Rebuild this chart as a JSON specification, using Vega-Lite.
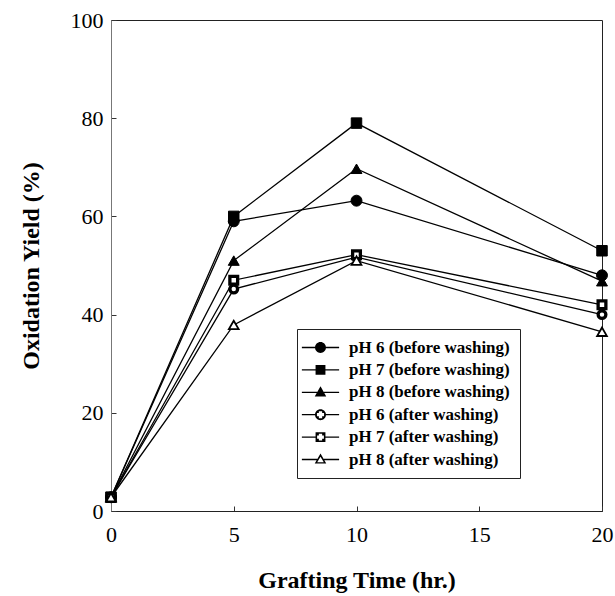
{
  "$schema": "https://vega.github.io/schema/vega-lite/v6.json",
  "width": 491,
  "height": 491,
  "autosize": {"type": "none"},
  "padding": {"left": 111, "top": 20, "right": 13, "bottom": 85},
  "background": "white",
  "config": {
    "view": {"stroke": "#222", "strokeWidth": 1},
    "font": "Liberation Serif",
    "legend": {
      "orient": "none",
      "legendX": 186,
      "legendY": 309,
      "strokeColor": "#222",
      "fillColor": "white",
      "padding": 10,
      "symbolSize": 120,
      "symbolOffset": 5,
      "labelOffset": 20,
      "symbolStrokeColor": "black",
      "symbolStrokeWidth": 1.3,
      "symbolFillColor": "black",
      "labelFont": "Liberation Serif",
      "labelFontSize": 17,
      "labelFontWeight": "bold",
      "labelColor": "black",
      "labelLimit": 300,
      "rowPadding": 4.4
    }
  },
  "data": {
    "values": [
      {"time": 0, "yield": 2.8, "series": "pH 6 (before washing)"},
      {"time": 5, "yield": 59.0, "series": "pH 6 (before washing)"},
      {"time": 10, "yield": 63.2, "series": "pH 6 (before washing)"},
      {"time": 20, "yield": 48.0, "series": "pH 6 (before washing)"},
      {"time": 0, "yield": 2.8, "series": "pH 7 (before washing)"},
      {"time": 5, "yield": 60.0, "series": "pH 7 (before washing)"},
      {"time": 10, "yield": 79.0, "series": "pH 7 (before washing)"},
      {"time": 20, "yield": 53.0, "series": "pH 7 (before washing)"},
      {"time": 0, "yield": 2.8, "series": "pH 8 (before washing)"},
      {"time": 5, "yield": 51.0, "series": "pH 8 (before washing)"},
      {"time": 10, "yield": 69.7, "series": "pH 8 (before washing)"},
      {"time": 20, "yield": 46.8, "series": "pH 8 (before washing)"},
      {"time": 0, "yield": 2.8, "series": "pH 6 (after washing)"},
      {"time": 5, "yield": 45.2, "series": "pH 6 (after washing)"},
      {"time": 10, "yield": 51.7, "series": "pH 6 (after washing)"},
      {"time": 20, "yield": 40.0, "series": "pH 6 (after washing)"},
      {"time": 0, "yield": 2.8, "series": "pH 7 (after washing)"},
      {"time": 5, "yield": 47.0, "series": "pH 7 (after washing)"},
      {"time": 10, "yield": 52.2, "series": "pH 7 (after washing)"},
      {"time": 20, "yield": 42.0, "series": "pH 7 (after washing)"},
      {"time": 0, "yield": 2.8, "series": "pH 8 (after washing)"},
      {"time": 5, "yield": 37.9, "series": "pH 8 (after washing)"},
      {"time": 10, "yield": 51.0, "series": "pH 8 (after washing)"},
      {"time": 20, "yield": 36.5, "series": "pH 8 (after washing)"}
    ]
  },
  "encoding": {
    "x": {
      "field": "time", "type": "quantitative",
      "scale": {"domain": [0, 20], "nice": false},
      "axis": {
        "values": [0, 5, 10, 15, 20],
        "title": "Grafting Time (hr.)",
        "titleFont": "Liberation Serif", "titleFontSize": 24, "titleFontWeight": "bold", "titleColor": "black",
        "titlePadding": 23,
        "labelFont": "Liberation Serif", "labelFontSize": 22, "labelColor": "black",
        "labelPadding": 18, "labelFlush": false,
        "tickSize": -5, "tickColor": "#333", "domainColor": "#222", "grid": false
      }
    },
    "y": {
      "field": "yield", "type": "quantitative",
      "scale": {"domain": [0, 100], "nice": false},
      "axis": {
        "values": [0, 20, 40, 60, 80, 100],
        "title": "Oxidation Yield (%)",
        "titleFont": "Liberation Serif", "titleFontSize": 24, "titleFontWeight": "bold", "titleColor": "black",
        "titlePadding": 27,
        "labelFont": "Liberation Serif", "labelFontSize": 22, "labelColor": "black",
        "labelPadding": 13, "labelFlush": false,
        "tickSize": -5, "tickColor": "#333", "domainColor": "#777", "grid": false
      }
    }
  },
  "layer": [
    {
      "mark": {"type": "line", "color": "black", "strokeWidth": 1.3},
      "encoding": {"detail": {"field": "series"}}
    },
    {
      "transform": [{"filter": "datum.series === 'pH 6 (before washing)'"}],
      "mark": {"type": "point", "shape": "circle", "filled": true, "fill": "black", "stroke": "black", "strokeWidth": 1, "size": 120, "opacity": 1}
    },
    {
      "transform": [{"filter": "datum.series === 'pH 7 (before washing)'"}],
      "mark": {"type": "point", "shape": "square", "filled": true, "fill": "black", "stroke": "black", "strokeWidth": 1, "size": 110, "opacity": 1}
    },
    {
      "transform": [{"filter": "datum.series === 'pH 8 (before washing)'"}],
      "mark": {"type": "point", "shape": "triangle-up", "filled": true, "fill": "black", "stroke": "black", "strokeWidth": 1, "size": 120, "opacity": 1}
    },
    {
      "transform": [{"filter": "datum.series === 'pH 6 (after washing)'"}],
      "mark": {"type": "point", "shape": "circle", "filled": true, "fill": "white", "stroke": "black", "strokeWidth": 3.3, "size": 60, "opacity": 1}
    },
    {
      "transform": [{"filter": "datum.series === 'pH 7 (after washing)'"}],
      "mark": {"type": "point", "shape": "square", "filled": true, "fill": "white", "stroke": "black", "strokeWidth": 3.3, "size": 60, "opacity": 1}
    },
    {
      "transform": [{"filter": "datum.series === 'pH 8 (after washing)'"}],
      "mark": {"type": "point", "shape": "triangle-up", "filled": true, "fill": "white", "stroke": "black", "strokeWidth": 1.8, "size": 95, "opacity": 1}
    },
    {
      "transform": [{"filter": "false"}],
      "mark": {"type": "point", "filled": true, "fill": "black", "stroke": "black", "strokeWidth": 1.3, "size": 120, "opacity": 1},
      "encoding": {
        "shape": {
          "field": "series", "type": "nominal",
          "scale": {
            "domain": ["pH 6 (before washing)", "pH 7 (before washing)", "pH 8 (before washing)", "pH 6 (after washing)", "pH 7 (after washing)", "pH 8 (after washing)"],
            "range": [
              "M-3.4,-0.12H-0.95V0.12H-3.4ZM0.95,-0.12H3.4V0.12H0.95ZM1,0A1,1 0 1,1 -1,0A1,1 0 1,1 1,0Z",
              "M-3.4,-0.12H-0.9V0.12H-3.4ZM0.9,-0.12H3.4V0.12H0.9ZM-0.9,-0.9H0.9V0.9H-0.9Z",
              "M-3.4,-0.12H-0.6V0.12H-3.4ZM0.6,-0.12H3.4V0.12H0.6ZM0,-1.1L1.05,0.75H-1.05Z",
              "M-3.4,-0.12H-0.95V0.12H-3.4ZM0.95,-0.12H3.4V0.12H0.95ZM1,0A1,1 0 1,1 -1,0A1,1 0 1,1 1,0ZM-0.3,-0.65L-0.3,-0.3L-0.65,-0.3L-0.65,0.3L-0.3,0.3L-0.3,0.65L0.3,0.65L0.3,0.3L0.65,0.3L0.65,-0.3L0.3,-0.3L0.3,-0.65Z",
              "M-3.4,-0.12H-0.9V0.12H-3.4ZM0.9,-0.12H3.4V0.12H0.9ZM-0.9,-0.9H0.9V0.9H-0.9ZM-0.3,-0.62L-0.3,-0.3L-0.62,-0.3L-0.62,0.3L-0.3,0.3L-0.3,0.62L0.3,0.62L0.3,0.3L0.62,0.3L0.62,-0.3L0.3,-0.3L0.3,-0.62Z",
              "M-3.4,-0.12H-0.6V0.12H-3.4ZM0.6,-0.12H3.4V0.12H0.6ZM0,-1.1L1.05,0.75H-1.05ZM0,-0.5L-0.6,0.5H0.6Z"
            ]
          },
          "legend": {"title": null}
        }
      }
    }
  ]
}
